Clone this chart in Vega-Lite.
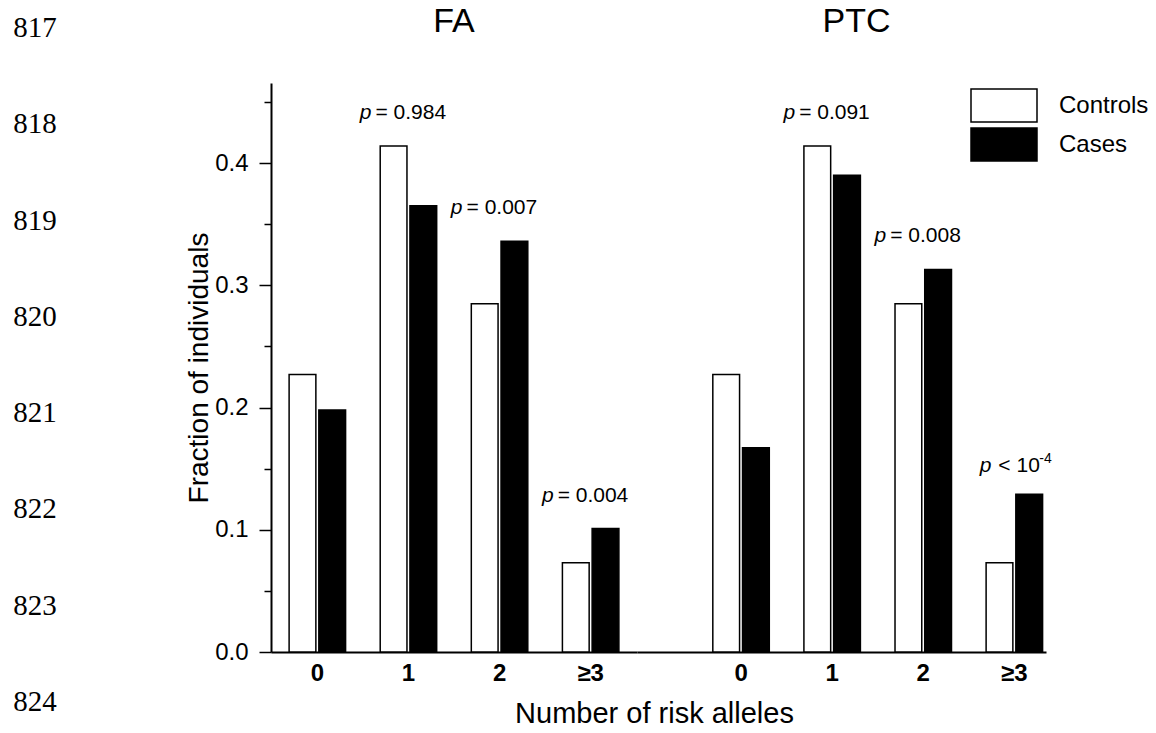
{
  "$schema": "https://vega.github.io/schema/vega-lite/v6.json",
  "padding": {"left": 12, "top": 5, "right": 5, "bottom": 5},
  "background": "white",
  "config": {
    "view": {"stroke": null},
    "font": "Liberation Sans",
    "axis": {"labelFont": "Liberation Sans", "titleFont": "Liberation Sans", "labelColor": "black", "titleColor": "black", "domainColor": "black", "tickColor": "black", "grid": false},
    "text": {"font": "Liberation Sans", "color": "black"},
    "title": {"font": "Liberation Sans", "color": "black", "fontWeight": "normal"},
    "legend": {"labelFont": "Liberation Sans", "labelColor": "black", "padding": 0}
  },
  "datasets": {
    "bars": [
      {"panel": "FA", "alleles": "0", "group": "Controls", "fraction": 0.227, "ptext": "", "pexp": ""},
      {"panel": "FA", "alleles": "0", "group": "Cases", "fraction": 0.198, "ptext": "", "pexp": ""},
      {"panel": "FA", "alleles": "1", "group": "Controls", "fraction": 0.414, "ptext": "= 0.984", "pexp": ""},
      {"panel": "FA", "alleles": "1", "group": "Cases", "fraction": 0.365, "ptext": "= 0.984", "pexp": ""},
      {"panel": "FA", "alleles": "2", "group": "Controls", "fraction": 0.285, "ptext": "= 0.007", "pexp": ""},
      {"panel": "FA", "alleles": "2", "group": "Cases", "fraction": 0.336, "ptext": "= 0.007", "pexp": ""},
      {"panel": "FA", "alleles": "≥3", "group": "Controls", "fraction": 0.073, "ptext": "= 0.004", "pexp": ""},
      {"panel": "FA", "alleles": "≥3", "group": "Cases", "fraction": 0.101, "ptext": "= 0.004", "pexp": ""},
      {"panel": "PTC", "alleles": "0", "group": "Controls", "fraction": 0.227, "ptext": "", "pexp": ""},
      {"panel": "PTC", "alleles": "0", "group": "Cases", "fraction": 0.167, "ptext": "", "pexp": ""},
      {"panel": "PTC", "alleles": "1", "group": "Controls", "fraction": 0.414, "ptext": "= 0.091", "pexp": ""},
      {"panel": "PTC", "alleles": "1", "group": "Cases", "fraction": 0.390, "ptext": "= 0.091", "pexp": ""},
      {"panel": "PTC", "alleles": "2", "group": "Controls", "fraction": 0.285, "ptext": "= 0.008", "pexp": ""},
      {"panel": "PTC", "alleles": "2", "group": "Cases", "fraction": 0.313, "ptext": "= 0.008", "pexp": ""},
      {"panel": "PTC", "alleles": "≥3", "group": "Controls", "fraction": 0.073, "ptext": "< 10", "pexp": "-4"},
      {"panel": "PTC", "alleles": "≥3", "group": "Cases", "fraction": 0.129, "ptext": "< 10", "pexp": "-4"}
    ],
    "lines": [
      {"line": 817}, {"line": 818}, {"line": 819}, {"line": 820},
      {"line": 821}, {"line": 822}, {"line": 823}, {"line": 824}
    ]
  },
  "spacing": 127,
  "hconcat": [
    {
      "data": {"name": "lines"},
      "width": 46,
      "height": 569,
      "mark": {"type": "text", "font": "Liberation Serif", "fontSize": 29, "align": "center", "baseline": "middle", "color": "black"},
      "encoding": {
        "y": {"field": "line", "type": "quantitative", "scale": {"domain": [817.571, 823.48], "reverse": true, "nice": false, "zero": false}, "axis": null},
        "text": {"field": "line", "type": "nominal"}
      }
    },
    {
      "spacing": 0,
      "bounds": "flush",
      "resolve": {"scale": {"x": "independent", "xOffset": "independent", "fill": "independent", "y": "shared"}, "axis": {"y": "independent", "x": "independent"}},
      "hconcat": [
        {
          "width": 366,
          "height": 569,
          "title": {"text": "FA", "fontSize": 34, "fontWeight": "normal", "frame": "group", "anchor": "middle", "offset": 44},
          "data": {"name": "bars"},
          "transform": [{"filter": "datum.panel === 'FA'"}],
          "encoding": {
            "x": {"field": "alleles", "type": "nominal", "sort": ["0", "1", "2", "≥3"],
              "scale": {"domain": ["0", "1", "2", "≥3"], "paddingInner": 0.38, "paddingOuter": 0.1988, "align": 0.5},
              "axis": {"title": "Number of risk alleles", "titleFontSize": 29, "titleFontWeight": "normal", "titleX": 383, "titleAlign": "center", "titlePadding": 14,
                "labelAngle": 0, "ticks": false, "labelFontSize": 24, "labelFontWeight": "bold", "labelPadding": 9, "domainWidth": 2}}
          },
          "layer": [
            {
              "mark": {"type": "bar", "stroke": "black", "strokeWidth": 1.5},
              "encoding": {
                "y": {"field": "fraction", "type": "quantitative", "title": "Fraction of individuals",
                  "scale": {"domain": [0, 0.4655], "nice": false, "zero": true},
                  "axis": {"title": "Fraction of individuals", "titleFontSize": 28, "titleFontWeight": "normal", "titlePadding": 1,
                    "values": [0, 0.05, 0.1, 0.15, 0.2, 0.25, 0.3, 0.35, 0.4, 0.45],
                    "labelExpr": "round(datum.value*20)%2===0 ? format(datum.value,'.1f') : ''",
                    "tickSize": {"condition": {"test": "round(datum.value*20)%2===0", "value": 12}, "value": 7},
                    "tickWidth": 1.5, "domainWidth": 2, "labelFontSize": 24, "labelPadding": 11}},
                "xOffset": {"field": "group", "type": "nominal", "sort": ["Controls", "Cases"], "scale": {"domain": ["Controls", "Cases"], "paddingInner": 0.1, "paddingOuter": 0}},
                "fill": {"field": "group", "type": "nominal", "scale": {"domain": ["Controls", "Cases"], "range": ["white", "black"]}, "legend": null}
              }
            },
            {
              "transform": [{"filter": "indexof(datum.ptext, '=') === 0"}],
              "mark": {"type": "text", "fontSize": 21, "fontStyle": "italic", "align": "right", "baseline": "middle", "dx": -37, "dy": -33},
              "encoding": {
                "y": {"aggregate": "max", "field": "fraction", "type": "quantitative", "title": "Fraction of individuals"},
                "text": {"value": "p"}
              }
            },
            {
              "transform": [{"filter": "indexof(datum.ptext, '=') === 0"}],
              "mark": {"type": "text", "fontSize": 21, "align": "left", "baseline": "middle", "dx": -33, "dy": -33},
              "encoding": {
                "y": {"aggregate": "max", "field": "fraction", "type": "quantitative", "title": "Fraction of individuals"},
                "text": {"field": "ptext", "type": "nominal"}
              }
            }
          ]
        },
        {
          "width": 409,
          "height": 569,
          "title": {"text": "PTC", "fontSize": 34, "fontWeight": "normal", "frame": "group", "anchor": "middle", "offset": 44, "dx": 15},
          "data": {"name": "bars"},
          "transform": [{"filter": "datum.panel === 'PTC'"}],
          "encoding": {
            "x": {"field": "alleles", "type": "nominal", "sort": ["0", "1", "2", "≥3"],
              "scale": {"domain": ["0", "1", "2", "≥3"], "paddingInner": 0.38, "paddingOuter": 0.4348, "align": 0.957},
              "axis": {"title": null, "labelAngle": 0, "ticks": false, "labelFontSize": 24, "labelFontWeight": "bold", "labelPadding": 9, "domainWidth": 2}}
          },
          "layer": [
            {
              "mark": {"type": "bar", "stroke": "black", "strokeWidth": 1.5},
              "encoding": {
                "y": {"field": "fraction", "type": "quantitative", "title": "Fraction of individuals",
                  "scale": {"domain": [0, 0.4655], "nice": false, "zero": true}, "axis": null},
                "xOffset": {"field": "group", "type": "nominal", "sort": ["Controls", "Cases"], "scale": {"domain": ["Controls", "Cases"], "paddingInner": 0.1, "paddingOuter": 0}},
                "fill": {"field": "group", "type": "nominal", "scale": {"domain": ["Controls", "Cases"], "range": ["white", "black"]},
                  "legend": {"title": null, "orient": "none", "legendX": 349.5, "legendY": 5, "direction": "vertical",
                    "symbolType": "M-2,-1H2V1H-2Z", "symbolSize": 1089, "symbolStrokeColor": "black", "symbolStrokeWidth": 1.5,
                    "labelFontSize": 24, "labelOffset": 37.5, "rowPadding": 0}}
              }
            },
            {
              "transform": [{"filter": "indexof(datum.ptext, '=') === 0"}],
              "mark": {"type": "text", "fontSize": 21, "fontStyle": "italic", "align": "right", "baseline": "middle", "dx": -37, "dy": -33},
              "encoding": {
                "y": {"aggregate": "max", "field": "fraction", "type": "quantitative", "title": "Fraction of individuals", "axis": null},
                "text": {"value": "p"}
              }
            },
            {
              "transform": [{"filter": "indexof(datum.ptext, '=') === 0"}],
              "mark": {"type": "text", "fontSize": 21, "align": "left", "baseline": "middle", "dx": -33, "dy": -33},
              "encoding": {
                "y": {"aggregate": "max", "field": "fraction", "type": "quantitative", "title": "Fraction of individuals", "axis": null},
                "text": {"field": "ptext", "type": "nominal"}
              }
            },
            {
              "transform": [{"filter": "indexof(datum.ptext, '<') === 0"}],
              "mark": {"type": "text", "fontSize": 21, "fontStyle": "italic", "align": "right", "baseline": "middle", "dx": -23, "dy": -28},
              "encoding": {
                "y": {"aggregate": "max", "field": "fraction", "type": "quantitative", "title": "Fraction of individuals", "axis": null},
                "text": {"value": "p"}
              }
            },
            {
              "transform": [{"filter": "indexof(datum.ptext, '<') === 0"}],
              "mark": {"type": "text", "fontSize": 21, "align": "left", "baseline": "middle", "dx": -16, "dy": -28},
              "encoding": {
                "y": {"aggregate": "max", "field": "fraction", "type": "quantitative", "title": "Fraction of individuals", "axis": null},
                "text": {"field": "ptext", "type": "nominal"}
              }
            },
            {
              "transform": [{"filter": "datum.pexp !== ''"}],
              "mark": {"type": "text", "fontSize": 14, "align": "left", "baseline": "middle", "dx": 25, "dy": -35},
              "encoding": {
                "y": {"aggregate": "max", "field": "fraction", "type": "quantitative", "title": "Fraction of individuals", "axis": null},
                "text": {"field": "pexp", "type": "nominal"}
              }
            }
          ]
        }
      ]
    }
  ]
}
